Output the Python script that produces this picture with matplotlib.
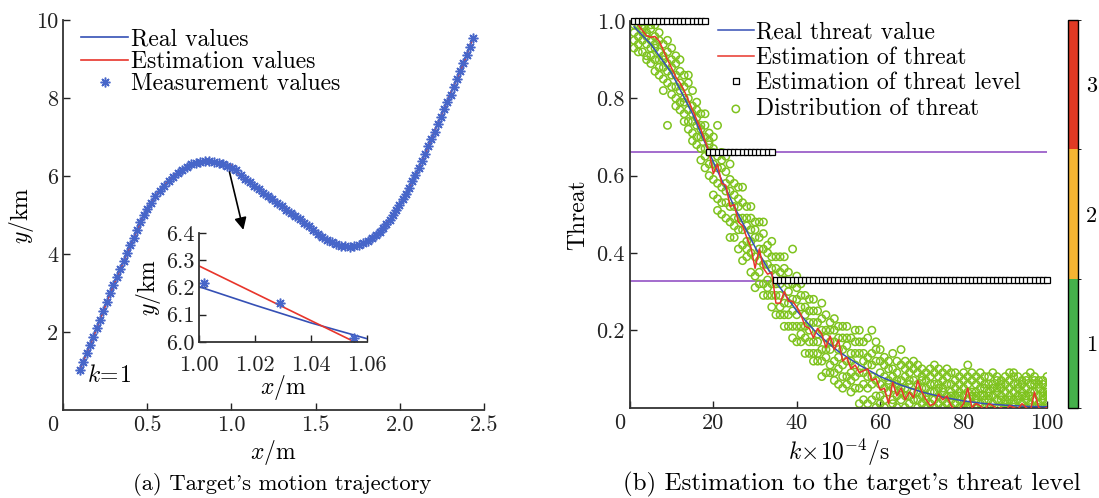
import numpy as np
import matplotlib.pyplot as plt
from matplotlib.colors import ListedColormap, BoundaryNorm
from matplotlib.cm import ScalarMappable
from matplotlib.transforms import ScaledTranslation

plt.rcParams['font.family'] = 'cmr10'
plt.rcParams['mathtext.fontset'] = 'cm'
plt.rcParams['axes.formatter.use_mathtext'] = True
plt.rcParams['axes.unicode_minus'] = False

# ---- (a) trajectory data ----
real_x = [0.10, 0.18, 0.28, 0.38, 0.475, 0.52, 0.576, 0.627, 0.677, 0.725, 0.77, 0.81, 0.855, 0.90,
          0.95, 1.00, 1.02, 1.04, 1.06, 1.19, 1.39, 1.487, 1.541, 1.595, 1.649, 1.703, 1.757, 1.81,
          1.858, 1.901, 1.941, 1.98, 2.036, 2.093, 2.15, 2.28, 2.378, 2.435]
real_y = [1.03, 1.87, 3.00, 4.02, 4.95, 5.30, 5.64, 5.87, 6.07, 6.22, 6.33, 6.37, 6.39, 6.37,
          6.30, 6.203, 6.135, 6.07, 6.012, 5.57, 4.96, 4.62, 4.43, 4.30, 4.21, 4.19, 4.23, 4.34,
          4.49, 4.66, 4.88, 5.14, 5.55, 6.03, 6.57, 7.90, 8.89, 9.55]

est_x = [0.10, 0.18, 0.28, 0.38, 0.475, 0.52, 0.576, 0.627, 0.677, 0.725, 0.77, 0.81, 0.855, 0.90,
         0.95, 1.00, 1.0564, 1.10, 1.19, 1.39, 1.487, 1.541, 1.595, 1.649, 1.703, 1.757, 1.81,
         1.858, 1.901, 1.941, 1.98, 2.036, 2.093, 2.15, 2.28, 2.378, 2.435]
est_y = [1.05, 1.88, 2.99, 4.03, 4.96, 5.31, 5.63, 5.88, 6.08, 6.21, 6.34, 6.38, 6.39, 6.38,
         6.31, 6.279, 5.996, 5.86, 5.58, 4.97, 4.61, 4.44, 4.31, 4.22, 4.19, 4.24, 4.33,
         4.50, 4.65, 4.89, 5.13, 5.56, 6.02, 6.58, 7.91, 8.88, 9.56]

meas_x = [0.10, 0.12, 0.14, 0.16, 0.18, 0.20, 0.22, 0.24, 0.26, 0.28, 0.30, 0.32, 0.34, 0.36, 0.38,
          0.40, 0.42, 0.44, 0.46, 0.48, 0.50,
          0.523, 0.549, 0.575, 0.601, 0.627, 0.654, 0.681, 0.708, 0.735, 0.762, 0.789, 0.816,
          0.843, 0.870, 0.897, 0.924, 0.951, 0.976, 1.0018, 1.0288, 1.0554,
          1.082, 1.109, 1.136, 1.163, 1.190, 1.217, 1.244, 1.271, 1.298, 1.325, 1.352, 1.379,
          1.406, 1.433, 1.460, 1.487, 1.514, 1.541, 1.568, 1.595, 1.622, 1.649, 1.676, 1.703, 1.730,
          1.757, 1.784, 1.810, 1.835, 1.858, 1.880, 1.901, 1.921,
          1.941, 1.960, 1.979, 1.998, 2.017, 2.036, 2.055, 2.074, 2.093, 2.112, 2.131, 2.150,
          2.169, 2.188, 2.207, 2.226, 2.245, 2.264, 2.283, 2.302, 2.321, 2.340, 2.359, 2.378,
          2.397, 2.416, 2.435]
meas_y = [1.03, 1.24, 1.45, 1.66, 1.87, 2.09, 2.32, 2.54, 2.77, 3.00, 3.21, 3.42, 3.62, 3.82, 4.02,
          4.22, 4.42, 4.62, 4.81, 5.00, 5.16,
          5.32, 5.48, 5.62, 5.75, 5.87, 5.98, 6.08, 6.16, 6.24, 6.30, 6.34, 6.37,
          6.39, 6.39, 6.37, 6.34, 6.30, 6.25, 6.218, 6.144, 6.016,
          5.93, 5.84, 5.75, 5.66, 5.57, 5.48, 5.40, 5.31, 5.23, 5.14, 5.06, 4.98,
          4.89, 4.80, 4.71, 4.62, 4.52, 4.43, 4.36, 4.30, 4.25, 4.21, 4.20, 4.19, 4.20,
          4.23, 4.28, 4.34, 4.41, 4.49, 4.57, 4.66, 4.76,
          4.88, 5.00, 5.13, 5.26, 5.40, 5.55, 5.70, 5.86, 6.03, 6.21, 6.39, 6.57,
          6.76, 6.95, 7.14, 7.33, 7.52, 7.71, 7.90, 8.09, 8.28, 8.48, 8.68, 8.89,
          9.10, 9.32, 9.55]

# ---- (b) threat data ----
real_k = [1, 5, 10, 15, 20, 25, 30, 35, 40, 45, 50, 55, 60, 65, 70, 75, 80, 85, 90, 95, 100]
real_threat = [0.985, 0.94, 0.865, 0.76, 0.635, 0.52, 0.415, 0.325, 0.25, 0.19, 0.145, 0.11,
               0.08, 0.058, 0.04, 0.027, 0.017, 0.01, 0.006, 0.003, 0.002]

k = np.arange(1, 101)
est_threat = [1.00, 0.99, 0.975, 0.962, 0.958, 0.96, 0.948, 0.925, 0.90, 0.878,
              0.855, 0.84, 0.82, 0.795, 0.77, 0.745, 0.72, 0.69, 0.66, 0.605,
              0.63, 0.58, 0.575, 0.52, 0.525, 0.48, 0.47, 0.44, 0.415, 0.36,
              0.41, 0.36, 0.345, 0.35, 0.27, 0.27, 0.30, 0.275, 0.275, 0.26,
              0.24, 0.21, 0.205, 0.18, 0.205, 0.19, 0.155, 0.185, 0.15, 0.175,
              0.12, 0.13, 0.10, 0.11, 0.09, 0.095, 0.10, 0.07, 0.075, 0.045,
              0.05, 0.01, 0.065, 0.03, 0.05, 0.02, 0.04, 0.025, 0.07, 0.04,
              0.02, 0.005, 0.01, 0.035, 0.02, 0.03, 0.005, -0.01, -0.005, 0.01,
              0.05, 0.0, 0.01, 0.005, -0.01, 0.01, 0.005, -0.005, 0.0, -0.01,
              0.005, 0.0, -0.005, 0.01, 0.0, -0.01, 0.04, 0.0, -0.005, 0.0]

# threat level steps: last k of each level and its value
level_end = [18, 34, 100]
level_value = [1.0, 0.66, 0.33]
thresholds = [0.66, 0.328]

# sampled threat distribution, 6 samples for each k = 1..100
dist = [
    [1.00, 0.97, 0.93, 0.99, 1.02, 0.95], [0.99, 0.94, 1.00, 0.96, 0.92, 1.01],
    [0.98, 0.95, 0.99, 0.92, 0.97, 1.00], [0.90, 0.97, 0.94, 1.00, 0.96, 0.91],
    [0.95, 0.89, 0.98, 0.93, 0.91, 0.99], [0.96, 0.90, 0.93, 0.87, 0.99, 0.94],
    [0.92, 0.88, 0.95, 0.86, 0.90, 0.97], [0.85, 0.91, 0.94, 0.88, 0.82, 0.90],
    [0.89, 0.84, 0.92, 0.73, 0.87, 0.95], [0.88, 0.83, 0.90, 0.81, 0.86, 0.93],
    [0.86, 0.80, 0.89, 0.83, 0.78, 0.91], [0.84, 0.79, 0.87, 0.77, 0.82, 0.90],
    [0.83, 0.76, 0.80, 0.86, 0.74, 0.79], [0.80, 0.74, 0.84, 0.77, 0.72, 0.86],
    [0.78, 0.71, 0.74, 0.82, 0.69, 0.76], [0.75, 0.70, 0.79, 0.68, 0.73, 0.77],
    [0.73, 0.67, 0.76, 0.70, 0.64, 0.72], [0.70, 0.65, 0.73, 0.67, 0.62, 0.76],
    [0.68, 0.63, 0.71, 0.60, 0.66, 0.69], [0.66, 0.59, 0.70, 0.63, 0.55, 0.67],
    [0.73, 0.58, 0.65, 0.54, 0.62, 0.51], [0.57, 0.66, 0.53, 0.62, 0.50, 0.64],
    [0.58, 0.53, 0.65, 0.49, 0.61, 0.56], [0.48, 0.59, 0.52, 0.63, 0.44, 0.56],
    [0.55, 0.44, 0.58, 0.49, 0.52, 0.47], [0.46, 0.52, 0.41, 0.57, 0.49, 0.54],
    [0.53, 0.42, 0.49, 0.46, 0.57, 0.38], [0.39, 0.49, 0.43, 0.52, 0.41, 0.47],
    [0.46, 0.35, 0.49, 0.40, 0.52, 0.43], [0.39, 0.48, 0.34, 0.44, 0.31, 0.46],
    [0.48, 0.35, 0.41, 0.38, 0.44, 0.32], [0.32, 0.41, 0.37, 0.45, 0.29, 0.48],
    [0.40, 0.33, 0.42, 0.29, 0.37, 0.31], [0.32, 0.39, 0.26, 0.36, 0.29, 0.43],
    [0.39, 0.29, 0.34, 0.24, 0.36, 0.32], [0.26, 0.39, 0.29, 0.35, 0.24, 0.32],
    [0.39, 0.24, 0.33, 0.27, 0.36, 0.21], [0.27, 0.32, 0.21, 0.35, 0.24, 0.30],
    [0.41, 0.25, 0.32, 0.21, 0.28, 0.18], [0.21, 0.28, 0.17, 0.31, 0.24, 0.34],
    [0.29, 0.19, 0.26, 0.21, 0.32, 0.17], [0.21, 0.29, 0.14, 0.26, 0.18, 0.24],
    [0.28, 0.17, 0.22, 0.14, 0.25, 0.20], [0.14, 0.22, 0.17, 0.28, 0.12, 0.25],
    [0.22, 0.12, 0.25, 0.17, 0.19, 0.14], [0.15, 0.27, 0.12, 0.20, 0.08, 0.23],
    [0.18, 0.13, 0.24, 0.09, 0.20, 0.15], [0.09, 0.20, 0.15, 0.22, 0.11, 0.17],
    [0.20, 0.07, 0.17, 0.12, 0.23, 0.09], [0.13, 0.21, 0.10, 0.18, 0.06, 0.15],
    [0.18, 0.08, 0.15, 0.11, 0.21, 0.05], [0.08, 0.16, 0.12, 0.18, 0.06, 0.21],
    [0.14, 0.09, 0.18, 0.04, 0.12, 0.07], [0.08, 0.17, 0.05, 0.14, 0.11, 0.20],
    [0.17, 0.09, 0.14, 0.05, 0.20, 0.01], [0.09, 0.14, 0.02, 0.17, 0.06, 0.12],
    [0.13, 0.05, 0.18, 0.08, 0.11, 0.01], [0.20, 0.06, 0.14, 0.02, 0.11, 0.08],
    [0.03, 0.15, 0.07, 0.12, 0.00, 0.17], [0.09, 0.03, 0.12, 0.06, 0.01, 0.15],
    [0.11, 0.05, 0.02, 0.08, 0.13, 0.00], [0.06, 0.10, -0.01, 0.04, 0.12, 0.07],
    [0.02, 0.08, 0.14, 0.05, 0.10, 0.01], [0.09, 0.03, 0.06, 0.12, 0.00, 0.07],
    [0.05, 0.11, 0.02, 0.15, 0.07, 0.04], [0.08, 0.00, 0.05, 0.10, 0.03, 0.12],
    [0.03, 0.07, 0.11, 0.01, 0.06, 0.09], [0.10, 0.04, -0.01, 0.07, 0.12, 0.02],
    [0.06, 0.02, 0.09, 0.04, 0.00, 0.11], [0.01, 0.08, 0.05, 0.10, 0.03, 0.07],
    [0.07, 0.03, 0.00, 0.05, 0.09, 0.02], [0.04, 0.10, 0.06, 0.01, 0.08, -0.01],
    [0.02, 0.06, 0.09, 0.04, 0.00, 0.11], [0.08, 0.03, 0.05, 0.01, 0.10, 0.06],
    [0.05, 0.00, 0.07, 0.09, 0.02, 0.04], [0.01, 0.06, 0.03, 0.08, -0.01, 0.10],
    [0.06, 0.02, 0.09, 0.04, 0.00, 0.03], [0.03, 0.07, 0.01, 0.05, 0.09, -0.01],
    [0.08, 0.02, 0.04, 0.00, 0.06, 0.03], [0.01, 0.05, 0.09, 0.03, 0.07, 0.00],
    [0.04, 0.11, 0.02, 0.06, 0.00, 0.08], [0.07, 0.01, 0.04, 0.09, 0.03, -0.01],
    [0.02, 0.06, 0.00, 0.04, 0.08, 0.03], [0.05, 0.01, 0.07, 0.03, -0.01, 0.09],
    [0.03, 0.08, 0.02, 0.05, 0.00, 0.06], [0.06, 0.00, 0.04, 0.08, 0.02, 0.03],
    [0.01, 0.05, 0.09, 0.03, 0.06, -0.01], [0.04, 0.07, 0.00, 0.02, 0.05, 0.08],
    [0.07, 0.02, 0.05, 0.00, 0.03, 0.06], [0.02, 0.06, 0.01, 0.04, 0.08, 0.00],
    [0.05, 0.00, 0.03, 0.07, 0.02, 0.09], [0.01, 0.04, 0.08, 0.02, 0.06, 0.09],
    [0.06, 0.03, 0.00, 0.05, 0.08, 0.02], [0.03, 0.07, 0.01, 0.04, -0.01, 0.06],
    [0.08, 0.02, 0.05, 0.00, 0.03, 0.07], [0.01, 0.06, 0.03, 0.09, 0.04, 0.00],
    [0.04, 0.00, 0.07, 0.02, 0.06, 0.08], [0.06, 0.03, 0.01, 0.05, 0.00, 0.07],
    [0.02, 0.07, 0.04, 0.00, 0.06, 0.03], [0.05, 0.01, 0.08, 0.03, 0.00, 0.04],
]

level_labels = ['1', '2', '3']
level_colors = ['#45b04b', '#f6b533', '#e03a24']

blue = '#3550b5'
red = '#e8352b'
meas_blue = '#4766c9'
green = '#7fc31f'
purple = '#9c60c9'
spine_col = '#333333'

fig = plt.figure(figsize=(10.99, 4.98), dpi=100)


def style(ax, xpad=4):
    for s in ['top', 'right']:
        ax.spines[s].set_visible(False)
    for s in ['left', 'bottom']:
        ax.spines[s].set_color(spine_col)
        ax.spines[s].set_linewidth(1.3)
    ax.tick_params(direction='in', length=5, width=1, labelsize=16, colors='#222222')
    ax.tick_params(axis='x', pad=xpad)


# ---- (a) ----
ax1 = fig.add_axes([0.0573, 0.1767, 0.3831, 0.7831])
ax1.plot(real_x, real_y, color=blue, lw=1.2, label='Real values')
ax1.plot(est_x, est_y, color=red, lw=1.2, label='Estimation values')
ax1.plot(meas_x, meas_y, ls='none', marker=(8, 2, 0), ms=7, mew=1.1, color=meas_blue,
         label='Measurement values')
ax1.set_xlim(0, 2.5)
ax1.set_ylim(0, 10)
ax1.set_xticks([0, 0.5, 1.0, 1.5, 2.0, 2.5])
ax1.set_xticklabels(['0', '0.5', '1.0', '1.5', '2.0', '2.5'])
ax1.set_yticks([2, 4, 6, 8, 10])
ax1.set_yticklabels(['2', '4', '6', '8', '10'])
style(ax1)
ax1.legend(loc='upper left', bbox_to_anchor=(0.043, 0.978), frameon=False, fontsize=17,
           handlelength=2.0, handletextpad=0.1, labelspacing=0.0, borderpad=0,
           borderaxespad=0, numpoints=1)
ax1.annotate('', xy=(1.075, 4.55), xytext=(0.985, 6.17),
             arrowprops=dict(arrowstyle='-|>', color='k', lw=1.2, mutation_scale=18))
ax1.text(0.145, 0.88, r'$k\!=\!1$', fontsize=17, ha='left', va='center')

axin = fig.add_axes([0.1811, 0.3133, 0.1529, 0.2189])
axin.patch.set_alpha(0)
axin.plot(real_x, real_y, color=blue, lw=1.2)
axin.plot(est_x, est_y, color=red, lw=1.2)
axin.plot(meas_x, meas_y, ls='none', marker=(8, 2, 0), ms=7, mew=1.1, color=meas_blue)
axin.set_xlim(1.0, 1.06)
axin.set_ylim(6.0, 6.4)
axin.set_xticks([1.00, 1.02, 1.04, 1.06])
axin.set_xticklabels(['1.00', '1.02', '1.04', '1.06'])
axin.set_yticks([6.0, 6.1, 6.2, 6.3, 6.4])
axin.set_yticklabels(['6.0', '6.1', '6.2', '6.3', '6.4'])
style(axin, xpad=10)
axin.set_xlabel(r'$x/\mathrm{m}$', fontsize=17, labelpad=-2)
axin.set_ylabel(r'$y/\mathrm{km}$', fontsize=17, labelpad=2)

# ---- (b) ----
ax2 = fig.add_axes([0.5732, 0.1817, 0.3795, 0.7761])
for t in thresholds:
    ax2.axhline(t, color=purple, lw=1.3, zorder=1)
dist_k = np.repeat(k, len(dist[0]))
dist_v = np.array(dist).ravel()
sc = ax2.scatter(dist_k, dist_v, s=28, facecolors='none', edgecolors=green, linewidths=1.1,
                 zorder=2, label='Distribution of threat')
l1, = ax2.plot(real_k, real_threat, color=blue, lw=1.1, zorder=3, label='Real threat value')
l2, = ax2.plot(k, est_threat, color=red, lw=1.1, zorder=4, label='Estimation of threat')
level_k = np.arange(1, level_end[-1] + 1)
level_v = np.repeat(level_value, np.diff([0] + level_end))
l3, = ax2.plot(level_k, level_v, ls='none', marker='s', ms=4.2, mfc='white', mec='k', mew=0.9,
               zorder=5, clip_on=False, label='Estimation of threat level')
ax2.set_xlim(0, 100)
ax2.set_ylim(0, 1)
ax2.set_xticks([0, 20, 40, 60, 80, 100])
ax2.set_xticklabels(['0', '20', '40', '60', '80', '100'])
ax2.set_yticks([0.2, 0.4, 0.6, 0.8, 1.0])
ax2.set_yticklabels(['0.2', '0.4', '0.6', '0.8', '1.0'])
style(ax2)
ax2.legend(handles=[l1, l2, l3, sc], loc='upper left', bbox_to_anchor=(0.21, 1.0),
           frameon=False, fontsize=17, handlelength=1.55, handletextpad=0.1,
           labelspacing=0.15, borderpad=0, borderaxespad=0, numpoints=1, scatterpoints=1)

cax = fig.add_axes([0.9718, 0.1807, 0.0091, 0.7791])
cb = fig.colorbar(ScalarMappable(norm=BoundaryNorm([0.5, 1.5, 2.5, 3.5], 3),
                                 cmap=ListedColormap(level_colors)),
                  cax=cax, ticks=[1, 2, 3])
cb.set_ticklabels(level_labels)
cb.outline.set_linewidth(1.0)
cax.tick_params(length=0, labelsize=16, pad=6)

# move the "0" tick labels a little to the left, as in the source
for ax in (ax1, ax2):
    lab = ax.get_xticklabels()[0]
    lab.set_transform(lab.get_transform() + ScaledTranslation(-0.10, 0, fig.dpi_scale_trans))

fig.text(22 / 1099, 1 - 215 / 498, r'$y/\mathrm{km}$', fontsize=17, rotation=90,
         ha='center', va='center')
fig.text(273 / 1099, 1 - 452 / 498, r'$x/\mathrm{m}$', fontsize=17, ha='center', va='center')
fig.text(578 / 1099, 1 - 215 / 498, 'Threat', fontsize=17, rotation=90, ha='center', va='center')
fig.text(839 / 1099, 1 - 452 / 498, r'$k\!\times\!10^{-4}/\mathrm{s}$', fontsize=17,
         ha='center', va='center')
fig.text(282 / 1099, 1 - 484 / 498, "(a) Target's motion trajectory", fontsize=16.3,
         ha='center', va='center')
fig.text(852 / 1099, 1 - 484 / 498, "(b) Estimation to the target's threat level", fontsize=18,
         ha='center', va='center')

fig.savefig('out.png', dpi=100)
